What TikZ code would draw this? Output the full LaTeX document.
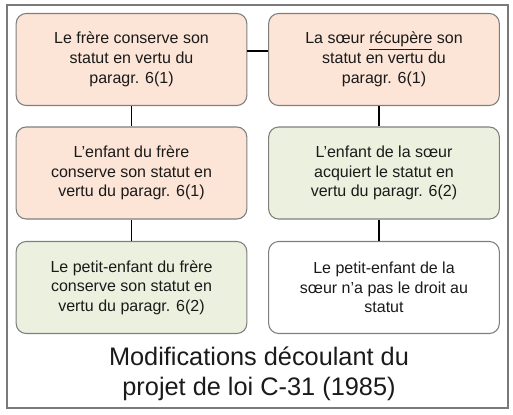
\documentclass[tikz,border=0pt]{standalone}
\usepackage{fontspec}
\setmainfont{Liberation Sans}
\usetikzlibrary{positioning}
\definecolor{BoxPeach}{HTML}{FCE4D6}
\definecolor{BoxGreen}{HTML}{EBF1DE}
\definecolor{BoxEdge}{HTML}{7F7F7F}
\definecolor{FrameGray}{HTML}{7A7A7A}
\definecolor{TextInk}{HTML}{1A1A1A}

\begin{document}
\begin{tikzpicture}[x=0.75pt,y=-0.75pt,
      font=\fontsize{12}{14.8}\selectfont,
      box/.style={draw=BoxEdge,line width=0.8pt,rounded corners=7.5pt,minimum width=173pt,minimum height=69pt,align=center,text=TextInk,inner sep=0pt},
      link/.style={draw=black,line width=0.9pt}
    ]
      \useasboundingbox (0,0) rectangle (513,414);
      \draw[FrameGray,line width=2pt] (7,5) rectangle (508,408);
      \node[box,fill=BoxPeach] (frere) at (131.5,59.5) {Le frère conserve son\\statut en vertu du\\paragr. 6(1)};
      \node[box,fill=BoxPeach] (soeur) at (384,59.5) {La sœur \underline{récupère} son\\statut en vertu du\\paragr. 6(1)};
      \node[box,fill=BoxPeach] (enffrere) at (131.5,173) {L’enfant du frère\\conserve son statut en\\vertu du paragr. 6(1)};
      \node[box,fill=BoxGreen] (enfsoeur) at (384,173) {L’enfant de la sœur\\acquiert le statut en\\vertu du paragr. 6(2)};
      \node[box,fill=BoxGreen] (pefrere) at (131.5,287.5) {Le petit-enfant du frère\\conserve son statut en\\vertu du paragr. 6(2)};
      \node[box,fill=white] (pesoeur) at (384,287.5) {Le petit-enfant de la\\sœur n’a pas le droit au\\statut};
      \node[align=center,text=TextInk,font=\fontsize{19}{22.5}\selectfont] (titre) at (259,374) {Modifications découlant du\\projet de loi C-31 (1985)};
      \draw[link] ([yshift=6.4pt]frere.east) -- ([yshift=6.4pt]soeur.west);
      \draw[link] (frere) -- (enffrere);
      \draw[link] (enffrere) -- (pefrere);
      \draw[link] ([xshift=-3.75pt]soeur.south) -- ([xshift=-3.75pt]enfsoeur.north);
      \draw[link] ([xshift=-3.75pt]enfsoeur.south) -- ([xshift=-3.75pt]pesoeur.north);
    \end{tikzpicture}
\end{document}
